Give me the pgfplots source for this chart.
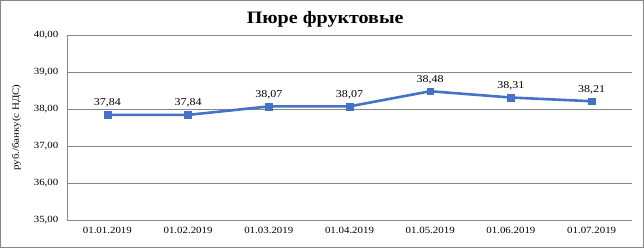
\documentclass[border=0pt]{standalone}
\usepackage{pgfplots}
\pgfplotsset{compat=1.18}
\usepackage{fontspec}
\setmainfont{Liberation Serif}[FakeStretch=1.15]
\definecolor{lineblue}{RGB}{68,114,196}
\definecolor{gridgray}{RGB}{134,134,134}
\definecolor{framegray}{RGB}{134,134,134}
\begin{document}
\begin{tikzpicture}[x=1bp,y=1bp]
\draw[framegray, line width=0.8bp] (0.4,0.4) rectangle (643.6,247.6);
\begin{axis}[
  at={(67bp,28bp)}, anchor=south west,
  scale only axis, width=565bp, height=185bp,
  xmin=-0.5, xmax=6.5, ymin=35, ymax=40,
  xtick=data,
  xticklabels={01.01.2019,01.02.2019,01.03.2019,01.04.2019,01.05.2019,01.06.2019,01.07.2019},
  ytick={35,36,37,38,39,40},
  axis lines=left, axis line style={gridgray, line width=0.8bp, -},
  ymajorgrids, grid style={gridgray, line width=0.8bp},
  tick style={draw=none},
  /pgf/number format/assume math mode=true,
  yticklabel style={xshift=-3bp, /pgf/number format/.cd, fixed, fixed zerofill, precision=2, use comma},
  ticklabel style={font=\fontsize{9.5}{11}\selectfont, text=black},
  xticklabel style={yshift=-2bp},
  ylabel={руб./банку(с НДС)},
  ylabel style={font=\fontsize{9.5}{11}\selectfont, yshift=6bp},
  title={\bfseries Пюре фруктовые},
  title style={font=\fontsize{17.5}{20}\selectfont, anchor=base, at={(axis description cs:0.457,1)}, yshift=6bp},
  clip=false,
]
\addplot[lineblue, line width=2.6bp, mark=square*, mark size=3.4bp,
  mark options={fill=lineblue, draw=lineblue, line width=0.5bp},
  nodes near coords,
  every node near coord/.append style={font=\fontsize{10.5}{12}\selectfont, text=black, yshift=4bp,
    /pgf/number format/.cd, fixed, fixed zerofill, precision=2, use comma, assume math mode=true},
] coordinates {(0,37.84) (1,37.84) (2,38.07) (3,38.07) (4,38.48) (5,38.31) (6,38.21)};
\end{axis}
\end{tikzpicture}
\end{document}
